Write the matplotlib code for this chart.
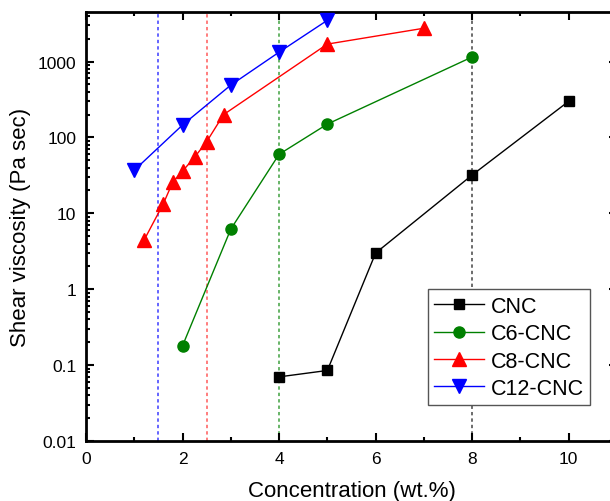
import matplotlib
matplotlib.use("Agg")
import matplotlib.pyplot as plt
from matplotlib.ticker import LogLocator, NullFormatter, FixedLocator

plt.rcParams['font.family'] = ['Liberation Sans', 'DejaVu Sans']

# Shear viscosity (Pa sec) vs concentration (wt.%)
cnc_x = [4, 5, 6, 8, 10]
cnc_y = [0.07, 0.085, 3.0, 32, 300]

c6_x = [2, 3, 4, 5, 8]
c6_y = [0.18, 6.2, 60, 150, 1150]

c8_x = [1.2, 1.6, 1.8, 2.0, 2.25, 2.5, 2.85, 5, 7]
c8_y = [4.4, 13.3, 26, 36, 55, 88, 200, 1700, 2750]

c12_x = [1, 2, 3, 4, 5]
c12_y = [37, 146, 490, 1330, 3500]

# critical concentrations marked by vertical dotted lines
vline_x = [1.5, 2.5, 4, 8]
vline_colors = ['#3b3bff', '#ff5a5a', '#3fa03f', '#444444']

x_ticks = [0, 2, 4, 6, 8, 10]
y_ticks = [0.01, 0.1, 1, 10, 100, 1000]
y_tick_labels = ['0.01', '0.1', '1', '10', '100', '1000']

fig = plt.figure(figsize=(6.10, 5.02), dpi=100)
ax = fig.add_axes([86/610, 60/502, 531/610, 429/502])

for xv, col in zip(vline_x, vline_colors):
    ax.axvline(xv, color=col, lw=1.1, ls=(0, (2.2, 2.0)), zorder=1)

ax.plot(cnc_x, cnc_y, color='black', lw=1, marker='s', ms=7.5, label='CNC', zorder=3)
ax.plot(c6_x, c6_y, color='#008000', lw=1, marker='o', ms=8, label='C6-CNC', zorder=3)
ax.plot(c8_x, c8_y, color='#ff0000', lw=1, marker='^', ms=9.5, label='C8-CNC', zorder=3)
ax.plot(c12_x, c12_y, color='#0000ff', lw=1, marker='v', ms=9.5, label='C12-CNC', zorder=3)

ax.set_yscale('log')
ax.set_xlim(0, 11)
ax.set_ylim(0.01, 4500)

ax.xaxis.set_major_locator(FixedLocator(x_ticks))
ax.xaxis.set_minor_locator(FixedLocator([1, 3, 5, 7, 9, 11]))
ax.set_xticklabels([str(v) for v in x_ticks])
ax.yaxis.set_major_locator(FixedLocator(y_ticks))
ax.set_yticklabels(y_tick_labels)
ax.yaxis.set_minor_locator(LogLocator(base=10, subs=range(2, 10), numticks=20))
ax.yaxis.set_minor_formatter(NullFormatter())

ax.tick_params(which='both', direction='in', top=True, right=True, labelsize=12.5, width=1.5)
ax.tick_params(which='major', length=5.5, pad=7)
ax.tick_params(which='minor', length=3.2)

for sp in ax.spines.values():
    sp.set_linewidth(2)

ax.set_xlabel('Concentration (wt.%)', fontsize=16, labelpad=10)
ax.set_ylabel('Shear viscosity (Pa sec)', fontsize=16, labelpad=5)

leg = ax.legend(loc='upper left', bbox_to_anchor=(0.6441, 0.354), borderaxespad=0,
                fontsize=15.5, fancybox=False, edgecolor='#555555', framealpha=1,
                handlelength=2.3, handletextpad=0.3, labelspacing=0.3, borderpad=0.3)
leg.get_frame().set_linewidth(1)

fig.savefig('out.png', dpi=100)
